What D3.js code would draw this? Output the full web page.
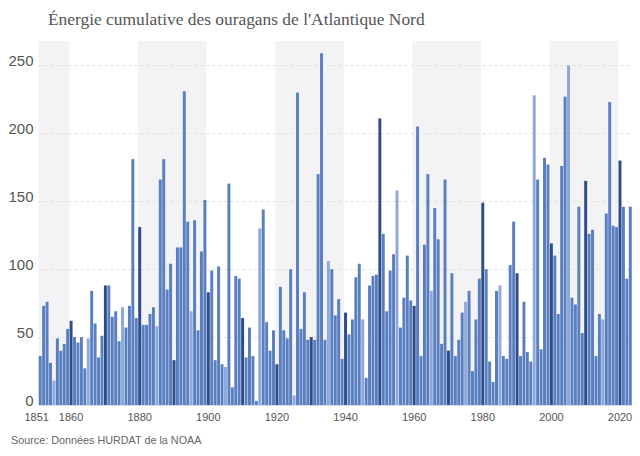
<!DOCTYPE html>
<html>
<head>
<meta charset="utf-8">
<script src="https://cdn.jsdelivr.net/npm/d3@7"></script>
<style>
  html, body { margin: 0; padding: 0; background: #fff; }
  svg { display: block; }
</style>
</head>
<body>
<svg id="chart" width="640" height="456"></svg>
<script>
const years = d3.range(1851, 2024);
const ace = [
  36, 73, 76, 31, 18, 49, 40, 45, 56, 62,
  50, 46, 50, 27, 49, 84, 60, 35, 51, 88,
  88, 65, 69, 47, 72, 57, 73, 181, 64, 131,
  59, 59, 67, 72, 58, 166, 181, 85, 104, 33,
  116, 116, 231, 135, 69, 136, 55, 113, 151, 83,
  99, 33, 102, 30, 28, 163, 13, 95, 93, 64,
  35, 57, 36, 3, 130, 144, 61, 40, 55, 30,
  87, 55, 49, 100, 7, 230, 56, 83, 48, 50,
  48, 170, 259, 48, 106, 100, 66, 78, 34, 68,
  52, 63, 94, 104, 63, 20, 88, 95, 96, 211,
  126, 69, 99, 111, 158, 57, 79, 110, 77, 73,
  205, 36, 118, 170, 84, 145, 122, 45, 166, 40,
  97, 36, 48, 68, 76, 84, 25, 63, 93, 149,
  100, 32, 17, 84, 88, 36, 34, 103, 135, 97,
  36, 76, 39, 32, 228, 166, 41, 182, 177, 119,
  110, 67, 176, 227, 250, 79, 74, 146, 53, 165,
  126, 129, 36, 67, 63, 141, 223, 132, 131, 180,
  146, 93, 146
];
const yTicks = [0, 50, 100, 150, 200, 250];
const xTickLabels = [1851, 1860, 1880, 1900, 1920, 1940, 1960, 1980, 2000, 2020];
const shadedBands = [[1851, 1860], [1880, 1900], [1920, 1940], [1960, 1980], [2000, 2020]];
const titleText = "Énergie cumulative des ouragans de l'Atlantique Nord";
const sourceText = "Source: Données HURDAT de la NOAA";

const data = years.map((yr, i) => ({ year: yr, value: ace[i] }));

const svg = d3.select("#chart");
const plotL = 38.5, plotR = 632, plotT = 41, plotB = 405;

const x = d3.scaleBand().domain(years).range([plotL, plotR]).paddingInner(0.14).paddingOuter(0.07);
const y = d3.scaleLinear().domain([0, 268]).range([plotB, plotT]);

const step = x.step();
const slotStart = yr => x(yr) - step * x.paddingInner() / 2;

// shaded background bands
svg.append("g").selectAll("rect").data(shadedBands).join("rect")
  .attr("x", d => Math.max(plotL, slotStart(d[0])))
  .attr("y", plotT)
  .attr("width", d => slotStart(d[1]) - Math.max(plotL, slotStart(d[0])))
  .attr("height", plotB - plotT)
  .attr("fill", "#f3f3f6");

// gridlines
svg.append("g").selectAll("line").data(yTicks.filter(t => t > 0)).join("line")
  .attr("x1", plotL).attr("x2", plotR)
  .attr("y1", d => Math.round(y(d)) + 0.5).attr("y2", d => Math.round(y(d)) + 0.5)
  .attr("stroke", "#e0e0e0").attr("stroke-width", 1).attr("stroke-dasharray", "3,3");

// y axis labels
const yAxis = d3.axisLeft(y).tickValues(yTicks).tickSize(0).tickPadding(0);
const gy = svg.append("g").attr("transform", `translate(${plotL - 5},-4.5)`).call(yAxis);
gy.select(".domain").remove();
gy.selectAll("text").attr("font-family", "Liberation Sans, Arial, sans-serif")
  .attr("font-size", 15).attr("fill", "#555");

// bars
const colorFor = yr => (yr % 10 === 0 ? "#2e4c87" : (yr % 10 === 5 ? "#8ea8dc" : "#5a7fc0"));
svg.append("g").selectAll("rect").data(data).join("rect")
  .attr("x", d => x(d.year))
  .attr("y", d => y(d.value))
  .attr("width", x.bandwidth())
  .attr("height", d => plotB - y(d.value))
  .attr("fill", d => colorFor(d.year));

// baseline
svg.append("line").attr("x1", plotL).attr("x2", plotR)
  .attr("y1", plotB + 0.5).attr("y2", plotB + 0.5)
  .attr("stroke", "#d8dce6").attr("stroke-width", 1);

// x axis labels
const xAxis = d3.axisBottom(x).tickValues(xTickLabels).tickSize(0).tickPadding(8);
const gx = svg.append("g").attr("transform", `translate(0,${plotB})`).call(xAxis);
gx.select(".domain").remove();
gx.selectAll("text").attr("font-family", "Liberation Sans, Arial, sans-serif")
  .attr("font-size", 11).attr("fill", "#555")
  .attr("dx", d => (d === 1851 ? -3.5 : 0));

// title
svg.append("text").attr("x", 48).attr("y", 25)
  .attr("font-family", "Liberation Serif, Times New Roman, serif")
  .attr("font-size", 17.4).attr("fill", "#555")
  .text(titleText);

// source
svg.append("text").attr("x", 11).attr("y", 444)
  .attr("font-family", "Liberation Sans, Arial, sans-serif")
  .attr("font-size", 10.8).attr("fill", "#666")
  .text(sourceText);
</script>
</body>
</html>
